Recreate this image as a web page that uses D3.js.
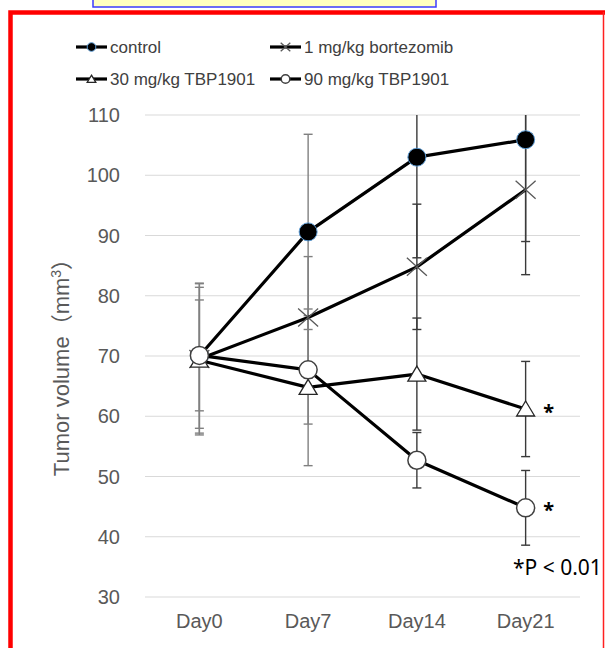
<!DOCTYPE html>
<html>
<head>
<meta charset="utf-8">
<script src="https://cdn.jsdelivr.net/npm/d3@7"></script>
<style>
  body { margin: 0; background: #fff; }
  svg { display: block; }
</style>
</head>
<body>
<div id="vis"></div>
<script>
// data
var days = ["Day0", "Day7", "Day14", "Day21"];
var seriesNames = ["control", "1 mg/kg bortezomib", "30 mg/kg TBP1901", "90 mg/kg TBP1901"];
var controlVals = [70, 90.6, 103.0, 105.9];
var controlErr = [12, 16.2, 16.7, 16.9];
var bortezomibVals = [69.5, 76.4, 84.8, 97.6];
var bortezomibErr = [12.6, 10.1, 10.4, 14.1];
var tbp30Vals = [69.3, 64.8, 67.0, 61.2];
var tbp30Err = [12.1, 13.0, 9.3, 7.9];
var tbp90Vals = [70.1, 67.7, 52.7, 44.8];
var tbp90Err = [9.2, 9.0, 4.6, 6.2];
var yTicks = [30, 40, 50, 60, 70, 80, 90, 100, 110];
var sigSeries = [2, 3]; // series marked with * at Day21

var series = [
  {name: seriesNames[0], vals: controlVals, err: controlErr, marker: "dot"},
  {name: seriesNames[1], vals: bortezomibVals, err: bortezomibErr, marker: "x"},
  {name: seriesNames[2], vals: tbp30Vals, err: tbp30Err, marker: "tri"},
  {name: seriesNames[3], vals: tbp90Vals, err: tbp90Err, marker: "circle"}
];

var W = 605, H = 648;
var pLeft = 145, pRight = 580, pTop = 115, pBottom = 597;
var axisFont = "'Liberation Sans', Arial, sans-serif";

var svg = d3.select("#vis").append("svg")
  .attr("width", W).attr("height", H);

// yellow box peeking at the top
svg.append("rect")
  .attr("x", 93).attr("y", -10).attr("width", 343).attr("height", 17)
  .attr("fill", "#ffffc0").attr("stroke", "#3b3bff").attr("stroke-width", 1.5);

// red frame
svg.append("rect")
  .attr("x", 10.5).attr("y", 12.5).attr("width", 600).attr("height", 700)
  .attr("fill", "none").attr("stroke", "#ff0000").attr("stroke-width", 4.5);
svg.append("rect")
  .attr("x", 598).attr("y", 15).attr("width", 10).attr("height", H)
  .attr("fill", "#fff");
svg.append("line")
  .attr("x1", 603.5).attr("x2", 603.5).attr("y1", 12).attr("y2", H)
  .attr("stroke", "#ff2020").attr("stroke-width", 1.5);

var x = d3.scaleBand().domain(days).range([pLeft, pRight]);
var y = d3.scaleLinear().domain([30, 110]).range([pBottom, pTop]);
var cx = function(d) { return x(d) + x.bandwidth() / 2; };

svg.append("defs").append("clipPath").attr("id", "plotclip")
  .append("rect").attr("x", 0).attr("y", pTop).attr("width", W).attr("height", pBottom - pTop + 20);

// gridlines
svg.append("g").selectAll("line").data(yTicks).enter().append("line")
  .attr("x1", pLeft).attr("x2", pRight)
  .attr("y1", d => y(d)).attr("y2", d => y(d))
  .attr("stroke", "#d9d9d9").attr("stroke-width", 1.2);

// y tick labels
svg.append("g").selectAll("text").data(yTicks).enter().append("text")
  .attr("x", 120).attr("y", d => y(d))
  .attr("text-anchor", "end").attr("dominant-baseline", "central")
  .attr("font-family", axisFont).attr("font-size", 20)
  .attr("fill", "#595959")
  .text(d => d);

// x labels
svg.append("g").selectAll("text").data(days).enter().append("text")
  .attr("x", d => cx(d)).attr("y", 621)
  .attr("text-anchor", "middle").attr("dominant-baseline", "central")
  .attr("font-family", axisFont).attr("font-size", 20)
  .attr("fill", "#595959")
  .text(d => d);

// y axis title
svg.append("text")
  .attr("transform", "translate(69,362) rotate(-90)")
  .attr("text-anchor", "middle")
  .attr("font-family", axisFont).attr("font-size", 22)
  .attr("fill", "#595959")
  .html("Tumor volume<tspan font-family=\"'Noto Sans CJK SC'\">（</tspan>mm<tspan dy='-8' font-size='14'>3</tspan><tspan dy='8' font-family=\"'Noto Sans CJK SC'\">）</tspan>");

// error bars
var errG = svg.append("g").attr("clip-path", "url(#plotclip)");
series.forEach(function(s) {
  s.vals.forEach(function(v, i) {
    var col = i < 2 ? "#808080" : "#3a3a3a";
    var xc = cx(days[i]);
    var g = errG.append("g").attr("stroke", col).attr("stroke-width", 1.4);
    g.append("line").attr("x1", xc).attr("x2", xc)
      .attr("y1", y(v + s.err[i])).attr("y2", y(v - s.err[i]));
    [v + s.err[i], v - s.err[i]].forEach(function(e) {
      g.append("line").attr("x1", xc - 4.5).attr("x2", xc + 4.5)
        .attr("y1", y(e)).attr("y2", y(e));
    });
  });
});

function drawMarker(g, type, px, py, scale) {
  var k = scale || 1;
  if (type === "dot") {
    g.append("circle").attr("cx", px).attr("cy", py).attr("r", 9 * k)
      .attr("fill", "#000").attr("stroke", "#5b9bd5").attr("stroke-width", 1);
  } else if (type === "circle") {
    g.append("circle").attr("cx", px).attr("cy", py).attr("r", 9 * k)
      .attr("fill", "#fff").attr("stroke", "#404040").attr("stroke-width", 1.5);
  } else if (type === "tri") {
    g.append("path")
      .attr("d", "M" + px + "," + (py - 8 * k) + "L" + (px + 9 * k) + "," + (py + 7 * k) +
        "L" + (px - 9 * k) + "," + (py + 7 * k) + "Z")
      .attr("fill", "#fff").attr("stroke", "#262626").attr("stroke-width", 1.3);
  } else if (type === "x") {
    var a = 10 * k, b = 9 * k;
    g.append("path")
      .attr("d", "M" + (px - a) + "," + (py - b) + "L" + (px + a) + "," + (py + b) +
        "M" + (px - a) + "," + (py + b) + "L" + (px + a) + "," + (py - b))
      .attr("stroke", "#595959").attr("stroke-width", 1.3).attr("fill", "none");
  }
}

// lines and markers
var line = d3.line().x((d, i) => cx(days[i])).y(d => y(d));
series.forEach(function(s) {
  var g = svg.append("g");
  g.append("path").datum(s.vals).attr("d", line)
    .attr("fill", "none").attr("stroke", "#000").attr("stroke-width", 3.2)
    .attr("stroke-linejoin", "round");
  s.vals.forEach(function(v, i) { drawMarker(g, s.marker, cx(days[i]), y(v)); });
});

// significance marks
sigSeries.forEach(function(si) {
  svg.append("text")
    .attr("x", cx(days[3]) + 23).attr("y", y(series[si].vals[3]) + 2)
    .attr("text-anchor", "middle").attr("dominant-baseline", "central")
    .attr("font-family", "'Noto Sans', sans-serif").attr("font-size", 20).attr("font-weight", "bold")
    .attr("fill", "#000").text("*");
});
svg.append("text")
  .attr("x", 513).attr("y", 567)
  .attr("dominant-baseline", "central")
  .attr("font-family", "'Noto Sans', sans-serif").attr("font-size", 21)
  .attr("fill", "#000").text("*P < 0.01");

// legend
var legPos = [[76, 47], [270, 47], [76, 79], [270, 79]];
series.forEach(function(s, i) {
  var g = svg.append("g");
  var lx = legPos[i][0], ly = legPos[i][1];
  g.append("line").attr("x1", lx).attr("x2", lx + 31).attr("y1", ly).attr("y2", ly)
    .attr("stroke", "#000").attr("stroke-width", 3.2);
  drawMarker(g, s.marker, lx + 15.5, ly, 0.48);
  g.append("text").attr("x", lx + 34).attr("y", ly)
    .attr("dominant-baseline", "central")
    .attr("font-family", axisFont).attr("font-size", 17)
    .attr("fill", "#404040").text(s.name);
});
</script>
</body>
</html>
